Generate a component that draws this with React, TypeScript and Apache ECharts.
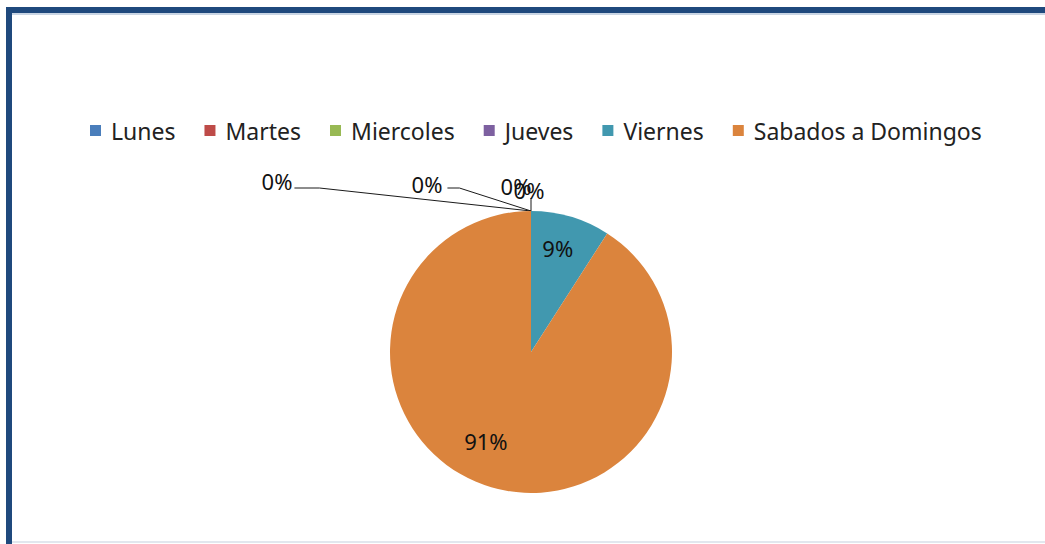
import React, { useEffect, useRef } from "react";
import * as echarts from "echarts";

const categories = ["Lunes", "Martes", "Miercoles", "Jueves", "Viernes", "Sabados a Domingos"];
const values = [0, 0, 0, 0, 1, 10];
const colors = ["#4a7ebb", "#be4b48", "#98b954", "#7d60a0", "#4198af", "#db843d"];

// label placement: zero slices relative to the slice anchor (top of pie), others relative to centre in radius units
const zeroLabelOffsets: Record<number, [number, number]> = {
  0: [-254, -30],
  1: [-104, -27],
  2: [-15, -25],
  3: [-2, -21],
};
const insideLabelOffsets: Record<number, [number, number]> = {
  4: [0.19, -0.74],
  5: [-0.32, 0.63],
};

const CX = 531;
const CY = 352;
const R = 141;

export default function App() {
  const ref = useRef<HTMLDivElement>(null);
  useEffect(() => {
    if (!ref.current) return;
    const chart = echarts.init(ref.current, null, { renderer: "svg" });
    const font = "'Noto Sans', sans-serif";
    const topX = CX;
    const topY = CY - R;
    chart.setOption({
      animation: false,
      backgroundColor: "#ffffff",
      color: colors,
      graphic: [
        { type: "line", z: -1, shape: { x1: 6, y1: 10, x2: 1045, y2: 10 }, style: { stroke: "#1f497d", lineWidth: 6 } },
        { type: "line", z: -1, shape: { x1: 12, y1: 14, x2: 1045, y2: 14 }, style: { stroke: "#c9d5e4", lineWidth: 2 } },
        { type: "line", z: -1, shape: { x1: 9, y1: 7, x2: 9, y2: 544 }, style: { stroke: "#1f497d", lineWidth: 6 } },
        { type: "line", z: -1, shape: { x1: 12, y1: 542, x2: 1045, y2: 542 }, style: { stroke: "#e2e7ee", lineWidth: 2 } },
      ],
      legend: {
        left: 85,
        top: 114,
        itemWidth: 16,
        itemHeight: 11,
        itemGap: 29,
        icon: "path://M0,0H11V11H0Z M16,11L16,11",
        textStyle: { fontFamily: font, fontSize: 23, color: "#222222" },
        data: categories,
      },
      series: [
        {
          type: "pie",
          center: [CX, CY],
          radius: R,
          startAngle: 90,
          clockwise: true,
          avoidLabelOverlap: false,
          itemStyle: { borderWidth: 0 },
          label: {
            show: true,
            position: "outside",
            formatter: (p: any) => Math.round(p.percent) + "%",
            fontFamily: font,
            fontSize: 22,
            color: "#111111",
          },
          labelLine: { show: true, lineStyle: { color: "#1a1a1a", width: 1 } },
          labelLayout: (p: any) => {
            const i = p.dataIndex;
            if (zeroLabelOffsets[i]) {
              const [dx, dy] = zeroLabelOffsets[i];
              const lx = topX + dx;
              const ly = topY + dy;
              const halfW = p.labelRect ? p.labelRect.width / 2 : 15;
              let pts: number[][];
              if (i === 0) pts = [[topX, topY], [lx + halfW + 27, ly + 7], [lx + halfW + 2, ly + 7]];
              else if (i === 1) pts = [[topX, topY], [lx + halfW + 17, ly + 4], [lx + halfW + 5, ly + 4]];
              else if (i === 3) pts = [[topX, topY], [topX, topY - 7], [topX, topY - 13]];
              else pts = [[topX, topY], [topX, topY], [topX, topY]];
              return { x: lx, y: ly, align: "center", verticalAlign: "middle", labelLinePoints: pts };
            }
            const [fx, fy] = insideLabelOffsets[i];
            return { x: CX + fx * R, y: CY + fy * R, align: "center", verticalAlign: "middle" };
          },
          data: categories.map((name, i) => ({
            name,
            value: values[i],
            labelLine: i >= 4 || i === 2 ? { show: false } : undefined,
          })),
        },
      ],
    });
    return () => chart.dispose();
  }, []);
  return <div ref={ref} style={{ position: "fixed", left: 0, top: 0, width: 1045, height: 544 }} />;
}
